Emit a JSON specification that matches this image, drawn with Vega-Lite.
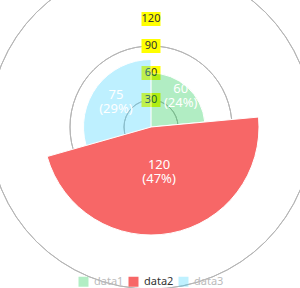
{
  "$schema": "https://vega.github.io/schema/vega-lite/v6.json",
  "width": 298,
  "height": 254,
  "autosize": {"type": "none"},
  "padding": {"left": 2, "top": 0, "right": 0, "bottom": 34},
  "background": "white",
  "config": {"view": {"stroke": null}, "font": "Noto Sans"},
  "datasets": {
    "slices": [
      {"cat": "data1", "value": 60, "label": "60\n(24%)"},
      {"cat": "data2", "value": 120, "label": "120\n(47%)"},
      {"cat": "data3", "value": 75, "label": "75\n(29%)"}
    ],
    "rings": [
      {"ring": 30},
      {"ring": 60},
      {"ring": 90},
      {"ring": 120},
      {"ring": 150}
    ]
  },
  "layer": [
    {
      "data": {"name": "rings"},
      "mark": {"type": "arc", "theta": 0, "theta2": 6.2832, "filled": false, "stroke": "#b5b5b5", "strokeWidth": 1},
      "encoding": {
        "radius": {"field": "ring", "type": "quantitative", "scale": {"type": "linear", "domain": [0, 150], "range": [0, 135], "zero": true, "nice": false}}
      }
    },
    {
      "data": {"name": "rings"},
      "transform": [{"filter": "datum.ring <= 120"}],
      "mark": {"type": "point", "shape": "M-1,-0.74H1V0.74H-1Z", "size": 361, "filled": true, "color": "#ffff00", "opacity": 1, "strokeWidth": 0},
      "encoding": {
        "x": {"datum": 0, "type": "quantitative", "scale": {"domain": [-1, 1], "nice": false, "zero": false}, "axis": null},
        "y": {"field": "ring", "type": "quantitative", "scale": {"domain": [-141.11, 141.11], "nice": false, "zero": false}, "axis": null}
      }
    },
    {
      "data": {"name": "rings"},
      "transform": [{"filter": "datum.ring <= 120"}],
      "mark": {"type": "text", "fontSize": 11, "color": "#333333", "align": "center", "baseline": "middle"},
      "encoding": {
        "x": {"datum": 0, "type": "quantitative", "scale": {"domain": [-1, 1], "nice": false, "zero": false}, "axis": null},
        "y": {"field": "ring", "type": "quantitative", "scale": {"domain": [-141.11, 141.11], "nice": false, "zero": false}, "axis": null},
        "text": {"field": "ring", "type": "quantitative", "format": "d"}
      }
    },
    {
      "data": {"name": "slices"},
      "mark": {"type": "arc", "stroke": "white", "strokeWidth": 1},
      "encoding": {
        "theta": {"field": "value", "type": "quantitative", "stack": true},
        "order": {"field": "cat", "type": "nominal", "sort": "ascending"},
        "radius": {"field": "value", "type": "quantitative", "scale": {"type": "linear", "domain": [0, 150], "range": [0, 135], "zero": true, "nice": false}},
        "color": {
          "field": "cat",
          "type": "nominal",
          "scale": {"domain": ["data1", "data2", "data3"], "range": ["#00c73c", "#f76767", "#2ad0ff"]},
          "legend": {
            "orient": "none",
            "legendX": 76,
            "legendY": 276,
            "direction": "horizontal",
            "title": null,
            "symbolType": "square",
            "symbolSize": 100,
            "symbolStrokeWidth": 0,
            "labelFontSize": 11,
            "labelOffset": 5,
            "columnPadding": 4,
            "labelColor": {"expr": "datum.value === 'data2' ? '#333333' : '#bbbbbb'"},
            "symbolOpacity": {"expr": "datum.value === 'data2' ? 1 : 0.3"}
          }
        },
        "opacity": {"condition": {"test": "datum.cat === 'data2'", "value": 1}, "value": 0.3}
      }
    },
    {
      "data": {"name": "slices"},
      "mark": {"type": "text", "radius": 44, "dy": -5, "fontSize": 13, "color": "white", "lineBreak": "\n", "lineHeight": 14, "align": "center", "baseline": "middle"},
      "encoding": {
        "theta": {"field": "value", "type": "quantitative", "stack": true},
        "order": {"field": "cat", "type": "nominal", "sort": "ascending"},
        "text": {"field": "label", "type": "nominal"}
      }
    }
  ]
}
